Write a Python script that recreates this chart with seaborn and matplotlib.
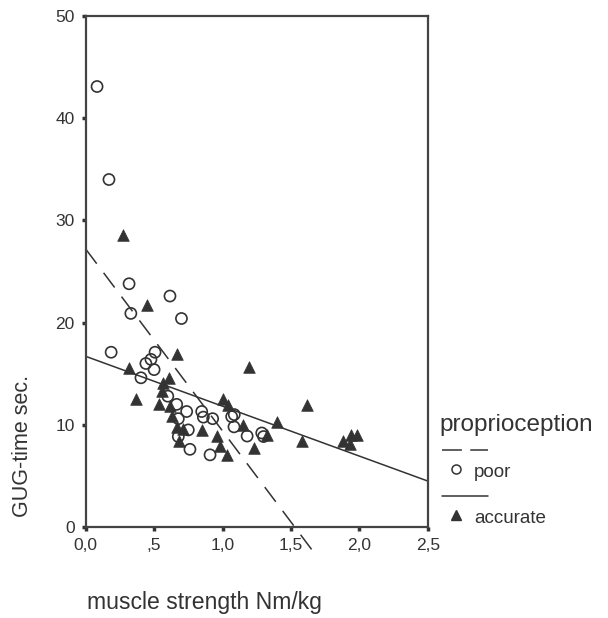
import matplotlib
matplotlib.use("Agg")

import matplotlib.pyplot as plt
import numpy as np
import pandas as pd
import seaborn as sns

# ── Data ──────────────────────────────────────────────────────────────

poor_strength = [0.083, 0.17, 0.186, 0.317, 0.33, 0.616, 0.70, 0.507, 0.477, 0.44,
                 0.50, 0.404, 0.60, 0.665, 0.738, 0.677, 0.848, 0.86, 0.928, 0.75,
                 0.677, 0.762, 0.909, 1.067, 1.086, 1.084, 1.18, 1.287, 1.30]
poor_gug = [43.1, 34.0, 17.1, 23.8, 20.9, 22.6, 20.4, 17.1, 16.4, 16.0,
            15.4, 14.6, 12.8, 12.0, 11.3, 10.6, 11.3, 10.75, 10.6, 9.5,
            8.85, 7.6, 7.06, 10.8, 11.0, 9.8, 8.9, 9.2, 8.85]

accurate_strength = [0.27, 0.446, 0.665, 0.319, 1.196, 0.61, 0.567, 0.56, 0.368, 0.538,
                     0.616, 0.628, 1.0, 1.04, 1.615, 1.40, 1.58, 0.848, 0.962, 0.665,
                     0.713, 0.684, 0.982, 1.03, 1.23, 1.323, 1.152, 1.883, 1.937, 1.985,
                     1.93]
accurate_gug = [28.6, 21.7, 16.9, 15.6, 15.7, 14.6, 14.1, 13.3, 12.5, 12.0,
                11.8, 10.9, 12.5, 11.9, 11.9, 10.3, 8.4, 9.5, 8.9, 9.8,
                9.6, 8.4, 7.9, 7.06, 7.7, 9.0, 10.0, 8.4, 9.0, 9.0,
                8.1]

# linear fits: intercept, slope, x range drawn
poor_fit = (27.2, -17.8)
poor_fit_range = [0.0, 1.68]
accurate_fit = (16.7, -4.88)
accurate_fit_range = [0.0, 2.5]

x_ticks = [0.0, 0.5, 1.0, 1.5, 2.0, 2.5]
x_ticklabels = ["0,0", ",5", "1,0", "1,5", "2,0", "2,5"]
y_ticks = [0, 10, 20, 30, 40, 50]

INK = "#333333"

sns.set_theme(style="white")
plt.rcParams["font.family"] = ["Liberation Sans", "DejaVu Sans"]

df = pd.DataFrame({
    "strength": poor_strength + accurate_strength,
    "gug": poor_gug + accurate_gug,
    "proprioception": ["poor"] * len(poor_strength) + ["accurate"] * len(accurate_strength),
})

fig = plt.figure(figsize=(6.08, 6.18), dpi=100)
ax = fig.add_axes([85.7 / 608, 1 - 527 / 618, 342 / 608, 511 / 618])

sns.scatterplot(data=df[df["proprioception"] == "poor"], x="strength", y="gug",
                marker="o", s=64, facecolors="none", edgecolor=INK, linewidth=1.2,
                ax=ax, legend=False, zorder=3)
sns.scatterplot(data=df[df["proprioception"] == "accurate"], x="strength", y="gug",
                marker="^", s=70, color=INK, edgecolor=INK, linewidth=0.5,
                ax=ax, legend=False, zorder=3)

# fit lines
xs = np.array(poor_fit_range)
ax.plot(xs, poor_fit[0] + poor_fit[1] * xs, color=INK, lw=1.1,
        dashes=(12, 7.5), clip_on=False, zorder=2)
xs = np.array(accurate_fit_range)
ax.plot(xs, accurate_fit[0] + accurate_fit[1] * xs, color=INK, lw=1.1,
        clip_on=False, zorder=2)

ax.set_xlim(0, 2.5)
ax.set_ylim(0, 50)
ax.set_xticks(x_ticks)
ax.set_xticklabels(x_ticklabels)
ax.set_yticks(y_ticks)
ax.set_xlabel("")
ax.set_ylabel("")
ax.tick_params(axis="both", direction="out", length=3, width=2.5, color=INK,
               labelcolor=INK, labelsize=12.5, left=True, bottom=True)
ax.tick_params(axis="x", pad=5)
ax.tick_params(axis="y", pad=5)
for side in ["left", "right", "top", "bottom"]:
    ax.spines[side].set_visible(True)
    ax.spines[side].set_color("#444444")
    ax.spines[side].set_linewidth(1.6)
ax.grid(False)

# axis titles
fig.text(23 / 608, 1 - 446 / 618, "GUG-time sec.", rotation=90, ha="center",
         va="center", fontsize=15.5, color=INK)
fig.text(87 / 608, 1 - 602 / 618, "muscle strength Nm/kg", ha="left",
         va="center", fontsize=16.6, color=INK)

# legend drawn in SPSS style
tr = ax.transAxes
ax.text(1.035, 0.1996, "proprioception", transform=tr, ha="left", va="center",
        fontsize=17.5, color=INK)
ax.plot([1.042, 1.176], [0.1507, 0.1507], transform=tr, color=INK, lw=1.1,
        dashes=(13, 5.5), clip_on=False)
ax.plot([1.082], [0.1129], transform=tr, marker="o", ms=6.5, mfc="none",
        mec=INK, mew=1.1, clip_on=False)
ax.text(1.135, 0.106, "poor", transform=tr, ha="left", va="center",
        fontsize=13.5, color=INK)
ax.plot([1.042, 1.176], [0.0613, 0.0613], transform=tr, color=INK, lw=1.1,
        clip_on=False)
ax.plot([1.082], [0.0235], transform=tr, marker="^", ms=7, color=INK,
        clip_on=False)
ax.text(1.135, 0.0176, "accurate", transform=tr, ha="left", va="center",
        fontsize=13.5, color=INK)

fig.savefig("out.png", dpi=100)
